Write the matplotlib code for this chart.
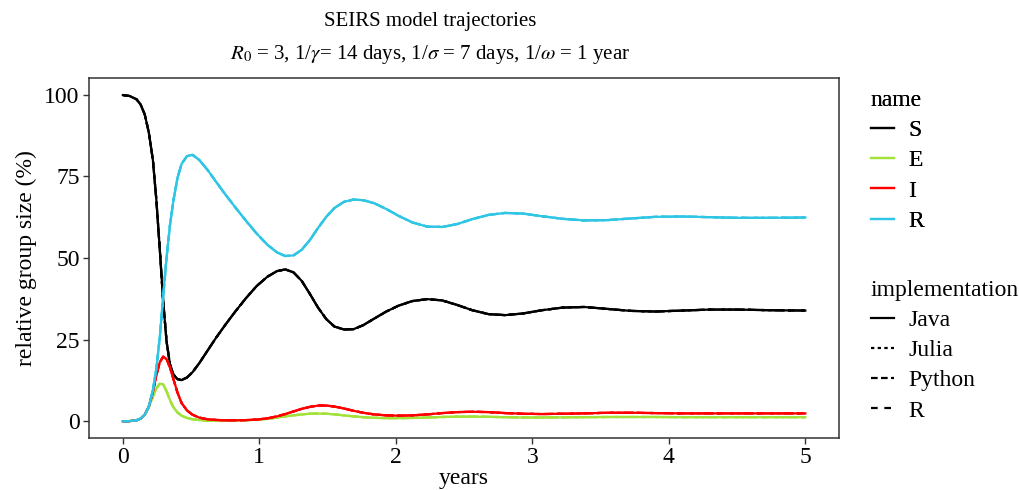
import matplotlib
matplotlib.use('Agg')
import matplotlib.pyplot as plt
from matplotlib.lines import Line2D

plt.rcParams['font.family'] = ['Liberation Serif', 'DejaVu Serif']
plt.rcParams['mathtext.fontset'] = 'stix'

# years
t = [0, 0.05, 0.1, 0.13, 0.16, 0.19, 0.22, 0.245, 0.27, 0.295, 0.32, 0.345, 0.37, 0.4, 0.43,
     0.47, 0.51, 0.56, 0.62, 0.68, 0.75, 0.82, 0.9, 0.98, 1.06, 1.13, 1.19, 1.25, 1.31, 1.37,
     1.43, 1.49, 1.55, 1.62, 1.69, 1.76, 1.84, 1.93, 2.02, 2.12, 2.23, 2.34, 2.45, 2.56, 2.68,
     2.8, 2.93, 3.07, 3.22, 3.38, 3.55, 3.72, 3.9, 4.1, 4.3, 4.5, 4.75, 5.0]

S = [99.9, 99.6, 98.6, 97.0, 94.0, 88.5, 80.0, 68.0, 53.0, 37.0, 24.5, 17.5, 14.3, 12.9, 12.6,
     13.4, 15.0, 17.8, 21.6, 25.4, 29.5, 33.4, 37.6, 41.4, 44.3, 46.0, 46.5, 45.6, 43.0, 39.0,
     34.8, 31.3, 29.0, 28.1, 28.2, 29.4, 31.4, 33.6, 35.4, 36.8, 37.4, 37.0, 35.6, 34.0, 32.8,
     32.5, 33.0, 34.0, 34.8, 35.0, 34.4, 33.8, 33.6, 33.9, 34.2, 34.2, 34.0, 33.9]

E = [0, 0.05, 0.3, 0.8, 2.0, 4.3, 7.5, 10.0, 11.5, 11.3, 9.2, 6.5, 4.3, 2.7, 1.7,
     1.0, 0.6, 0.35, 0.2, 0.15, 0.15, 0.2, 0.3, 0.45, 0.75, 1.1, 1.5, 1.8, 2.1, 2.3,
     2.35, 2.3, 2.1, 1.8, 1.5, 1.25, 1.05, 0.95, 0.95, 1.0, 1.15, 1.3, 1.4, 1.4, 1.35,
     1.25, 1.15, 1.15, 1.2, 1.25, 1.3, 1.3, 1.3, 1.25, 1.25, 1.25, 1.25, 1.25]

I = [0, 0.05, 0.3, 0.8, 2.0, 4.5, 9.0, 14.0, 18.0, 19.8, 19.0, 16.5, 13.0, 8.8, 5.6,
     3.3, 2.0, 1.1, 0.6, 0.4, 0.3, 0.3, 0.35, 0.5, 0.9, 1.5, 2.2, 3.0, 3.8, 4.4,
     4.8, 4.8, 4.5, 3.9, 3.2, 2.6, 2.1, 1.8, 1.7, 1.8, 2.1, 2.5, 2.8, 2.9, 2.8,
     2.5, 2.3, 2.2, 2.3, 2.4, 2.6, 2.6, 2.5, 2.4, 2.4, 2.4, 2.4, 2.4]

R = [0, 0.05, 0.3, 0.8, 2.0, 4.5, 9.5, 16.0, 25.5, 38.0, 50.0, 60.0, 67.5, 74.5, 78.8,
     81.2, 81.6, 80.0, 77.0, 73.5, 69.5, 65.7, 61.5, 57.5, 54.0, 51.7, 50.6, 50.8, 52.5, 55.5,
     59.2, 62.6, 65.3, 67.2, 67.9, 67.7, 66.8, 65.0, 62.9, 60.9, 59.6, 59.5, 60.4, 61.9, 63.2,
     63.8, 63.6, 62.8, 62.0, 61.5, 61.6, 62.1, 62.6, 62.7, 62.5, 62.3, 62.3, 62.4]

names = ['S', 'E', 'I', 'R']
series = [S, E, I, R]
colors = ['#000000', '#a3e23a', '#ff0000', '#2ec6e4']

implementations = ['Java', 'Julia', 'Python', 'R']
lw = 1.6
styles = ['-', (0, (1.5, 1.5)), (0, (3, 1.5)), (0, (3, 3))]

fig = plt.figure(figsize=(10.2, 4.9), dpi=100)
ax = fig.add_axes([0.087, 0.107, 0.736, 0.733])

for vals, col in zip(series, colors):
    for ls in styles:
        ax.plot(t, vals, color=col, linestyle=ls, linewidth=lw)

ax.set_xlim(-0.25, 5.25)
ax.set_ylim(-5, 105)
ax.set_xticks([0, 1, 2, 3, 4, 5])
ax.set_yticks([0, 25, 50, 75, 100])
for sp in ax.spines.values():
    sp.set_color('#333333')
    sp.set_linewidth(1.1)
ax.tick_params(direction='out', length=4, width=1, color='#333333',
               labelsize=17, labelcolor='black', pad=2.5)
ax.set_xlabel('years', fontsize=17, labelpad=0)
ax.set_ylabel('relative group size (%)', fontsize=17, labelpad=5)

fig.text(0.4216, 0.957, 'SEIRS model trajectories', ha='center', va='center', fontsize=15)
fig.text(0.4216, 0.889,
         r'$R_0$ = 3, 1/$\gamma$= 14 days, 1/$\sigma$ = 7 days, 1/$\omega$ = 1 year',
         ha='center', va='center', fontsize=15)

h1 = [Line2D([], [], color=c, linewidth=lw) for c in colors]
leg1 = fig.legend(h1, names, title='name', loc='upper left', bbox_to_anchor=(0.835, 0.855),
                  frameon=False, fontsize=17, title_fontsize=17, handlelength=1.0,
                  handletextpad=0.6, labelspacing=0.37, alignment='left', borderpad=0.3)
h2 = [Line2D([], [], color='black', linestyle=s, linewidth=lw) for s in styles]
leg2 = fig.legend(h2, implementations, title='implementation', loc='upper left',
                  bbox_to_anchor=(0.835, 0.468), frameon=False, fontsize=17, title_fontsize=17,
                  handlelength=1.0, handletextpad=0.6, labelspacing=0.37, alignment='left',
                  borderpad=0.3)
fig.add_artist(leg1)

fig.savefig('out.png', dpi=100)
